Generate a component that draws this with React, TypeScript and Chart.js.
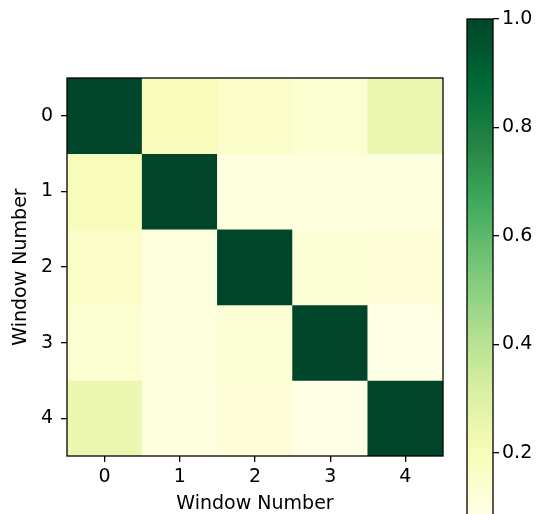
import React, { useEffect, useRef } from 'react';
import { Chart, registerables } from 'chart.js';
Chart.register(...registerables);

const windowLabels = ['0', '1', '2', '3', '4'];
const row0 = [1.0, 0.195, 0.16, 0.142, 0.246];
const row1 = [0.195, 1.0, 0.1, 0.11, 0.1];
const row2 = [0.16, 0.1, 1.0, 0.125, 0.118];
const row3 = [0.142, 0.11, 0.125, 1.0, 0.085];
const row4 = [0.246, 0.1, 0.118, 0.085, 1.0];
const rows = [row0, row1, row2, row3, row4];
const colorbarTicks = [0.2, 0.4, 0.6, 0.8, 1.0];
const vMin = 0.085;
const vMax = 1.0;
const axisTitle = 'Window Number';

const ylgn = ['#ffffe5', '#f7fcb9', '#d9f0a3', '#addd8e', '#78c679', '#41ab5d', '#238443', '#006837', '#004529'];

function hexToRgb(h: string) {
  return [parseInt(h.slice(1, 3), 16), parseInt(h.slice(3, 5), 16), parseInt(h.slice(5, 7), 16)];
}
function colorFor(v: number) {
  let t = (v - vMin) / (vMax - vMin);
  t = Math.max(0, Math.min(1, t));
  const pos = t * (ylgn.length - 1);
  const i = Math.min(Math.floor(pos), ylgn.length - 2);
  const f = pos - i;
  const a = hexToRgb(ylgn[i]);
  const b = hexToRgb(ylgn[i + 1]);
  const c = a.map((x, k) => Math.round(x + (b[k] - x) * f));
  return `rgb(${c[0]},${c[1]},${c[2]})`;
}

const FONT = { family: 'DejaVu Sans', size: 19 };
const boxPlugin = {
  id: 'box',
  afterDatasetsDraw(chart: any) {
    const { ctx, chartArea: a } = chart;
    ctx.save();
    ctx.strokeStyle = '#000';
    ctx.lineWidth = 1.3;
    ctx.strokeRect(a.left, a.top, a.right - a.left, a.bottom - a.top);
    ctx.restore();
  },
};

export default function App() {
  const heatRef = useRef<HTMLCanvasElement>(null);
  const barRef = useRef<HTMLCanvasElement>(null);

  useEffect(() => {
    Chart.defaults.font.family = 'DejaVu Sans';
    Chart.defaults.color = '#000';
    const datasets = rows.map((row, r) => ({
      label: 'row ' + r,
      data: row.map(() => [r - 0.5, r + 0.5]),
      backgroundColor: row.map((v) => colorFor(v)),
      borderWidth: 0,
      barPercentage: 1,
      categoryPercentage: 1,
      grouped: false,
    }));
    const heat = new Chart(heatRef.current!, {
      type: 'bar',
      data: { labels: windowLabels, datasets: datasets as any },
      options: {
        animation: false,
        responsive: false,
        devicePixelRatio: 1,
        layout: { padding: { top: 78, right: 17, left: 0, bottom: 0 } },
        plugins: { legend: { display: false }, tooltip: { enabled: false } },
        scales: {
          x: {
            type: 'category',
            offset: true,
            grid: { offset: false, drawOnChartArea: false, drawTicks: true, tickLength: 6, color: '#000', lineWidth: 1.3 },
            border: { display: false },
            ticks: { font: FONT, color: '#000', padding: 4, maxRotation: 0 },
            title: { display: true, text: axisTitle, font: { ...FONT, lineHeight: 1.0 }, color: '#000', padding: { top: 0, bottom: 0 } },
            afterFit: (s: any) => { s.height = 58; },
          },
          y: {
            type: 'linear',
            reverse: true,
            min: -0.5,
            max: 4.5,
            grid: { drawOnChartArea: false, drawTicks: true, tickLength: 6, color: '#000', lineWidth: 1.3 },
            border: { display: false },
            afterBuildTicks: (s: any) => { s.ticks = windowLabels.map((l) => ({ value: Number(l) })); },
            ticks: { font: FONT, color: '#000', padding: 8, callback: (v: any) => String(v) },
            title: { display: true, text: axisTitle, font: { ...FONT, lineHeight: 1.0 }, color: '#000', padding: { top: 12, bottom: 0 } },
            afterFit: (s: any) => { s.width = 67; },
          },
        },
      },
      plugins: [boxPlugin],
    });

    const bar = new Chart(barRef.current!, {
      type: 'bar',
      data: {
        labels: ['cb'],
        datasets: [{
          data: [[vMin, vMax]] as any,
          borderWidth: 0,
          barPercentage: 1,
          categoryPercentage: 1,
          backgroundColor: (ctx: any) => {
            const ch = ctx.chart;
            if (!ch.chartArea || !ch.scales.y) return ylgn[4];
            const y0 = ch.scales.y.getPixelForValue(vMin);
            const y1 = ch.scales.y.getPixelForValue(vMax);
            const g = ch.ctx.createLinearGradient(0, y0, 0, y1);
            ylgn.forEach((c, i) => g.addColorStop(i / (ylgn.length - 1), c));
            return g;
          },
        }],
      },
      options: {
        animation: false,
        responsive: false,
        devicePixelRatio: 1,
        layout: { padding: { top: 19, left: 7, right: 0, bottom: 25 } },
        plugins: { legend: { display: false }, tooltip: { enabled: false } },
        scales: {
          x: { display: false, offset: true },
          y: {
            type: 'linear',
            position: 'right',
            min: vMin,
            max: vMax,
            grid: { drawOnChartArea: false, drawTicks: true, tickLength: 6, color: '#000', lineWidth: 1.3 },
            border: { display: false },
            afterBuildTicks: (s: any) => { s.ticks = colorbarTicks.map((v) => ({ value: v })); },
            ticks: { font: FONT, color: '#000', padding: 3, callback: (v: any) => Number(v).toFixed(1) },
            afterFit: (s: any) => { s.width = 46; },
          },
        },
      },
      plugins: [boxPlugin],
    });

    return () => { heat.destroy(); bar.destroy(); };
  }, []);

  return (
    <div style={{ position: 'fixed', left: 0, top: 0, width: 539, height: 514, overflow: 'hidden', background: '#fff' }}>
      <canvas ref={heatRef} width={460} height={514} style={{ position: 'absolute', left: 0, top: 0, width: 460, height: 514 }} />
      <canvas ref={barRef} width={79} height={540} style={{ position: 'absolute', left: 460, top: 0, width: 79, height: 540 }} />
    </div>
  );
}
